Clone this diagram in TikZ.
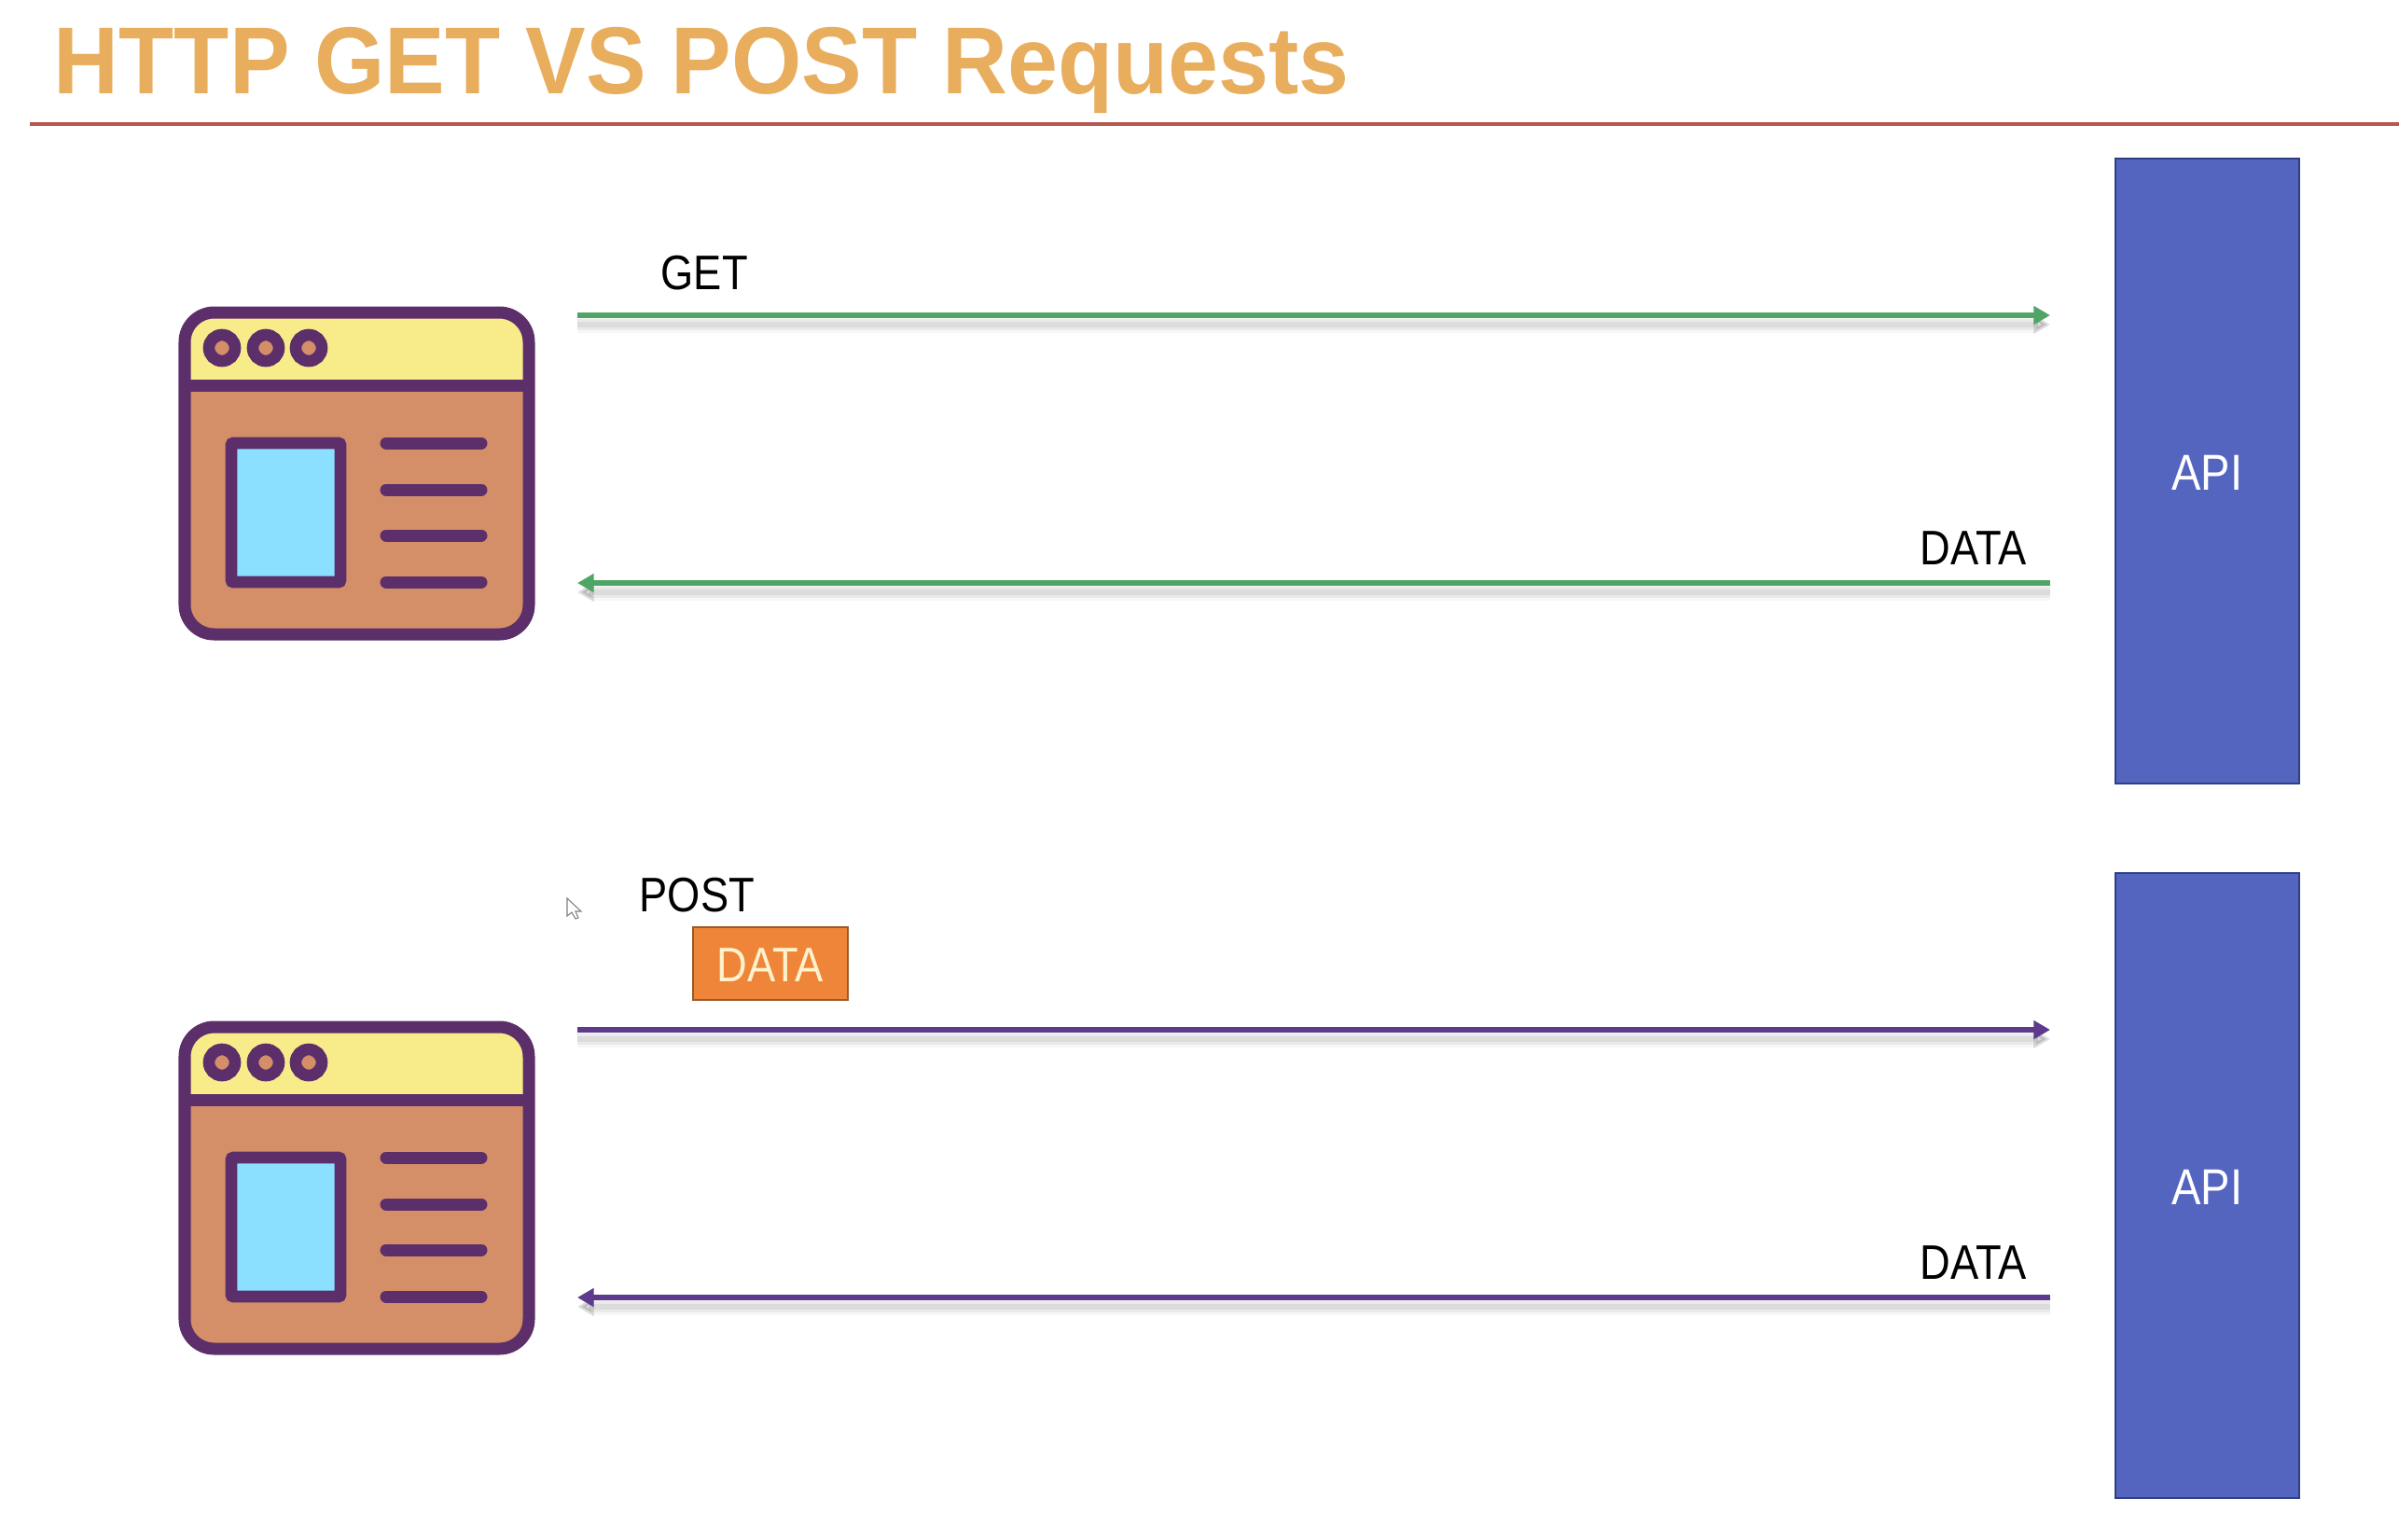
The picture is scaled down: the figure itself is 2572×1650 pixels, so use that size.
\documentclass[tikz,border=0pt]{standalone}
\usepackage{fontspec}
\setmainfont[FakeStretch=0.87]{Liberation Sans}
\newfontfamily\titlefont[FakeStretch=0.95]{Liberation Sans}
\usepackage{xcolor}
\usetikzlibrary{arrows.meta}
\definecolor{webline}{HTML}{5C2F6B}
\definecolor{webhead}{HTML}{F8EB8A}
\definecolor{webbody}{HTML}{D58F68}
\definecolor{webpane}{HTML}{8CE0FF}
\definecolor{apifill}{HTML}{5465C0}
\definecolor{apiline}{HTML}{2F3F86}
\definecolor{getcol}{HTML}{4FA566}
\definecolor{postcol}{HTML}{5E3A8C}
\definecolor{titlecol}{HTML}{E8AE5E}
\definecolor{rulecol}{HTML}{B5574F}
\definecolor{boxfill}{HTML}{EE8538}
\definecolor{boxline}{HTML}{9A5A2C}
\definecolor{boxtext}{HTML}{FFF2CC}
\tikzset{
	lbl/.style={font=\fontsize{14.8}{18}\selectfont,anchor=base west,inner sep=0pt},
	apibox/.style={draw=apiline,fill=apifill,line width=0.5pt,minimum width=56.2pt,minimum height=190.7pt,inner sep=0pt,text=white,text height=11.8pt,text depth=0pt,font=\fontsize{15.4}{18}\selectfont},
	msg/.style={line width=1.5pt,-{Triangle[length=5pt,width=5.4pt]},
		preaction={draw=black,opacity=.03,line width=5pt,transform canvas={yshift=-2.8pt}},
		preaction={draw=black,opacity=.05,line width=3.4pt,transform canvas={yshift=-2.8pt}},
		preaction={draw=black,opacity=.06,line width=1.8pt,transform canvas={yshift=-2.8pt}}},
	browser/.pic={
		\fill[webbody,rounded corners=9pt] (198,335) rectangle (567,680);
		\begin{scope}
			\clip (190,320) rectangle (575,413);
			\fill[webhead,rounded corners=9pt] (198,335) rectangle (567,680);
		\end{scope}
		\draw[webline,line width=3.7pt,rounded corners=9pt] (198,335) rectangle (567,680);
		\draw[webline,line width=3.7pt] (198,413) -- (567,413);
		% window buttons
		\foreach \x in {238,285,331}
			\draw[webline,fill=webbody,line width=3.6pt] (\x,373) circle (14);
		% picture pane
		\draw[webline,fill=webpane,line width=3.6pt,rounded corners=0.6pt] (248,475) rectangle (365,624);
		% text lines
		\foreach \y in {475,525,574,624}
			\draw[webline,line width=3.7pt,line cap=round] (414,\y) -- (516,\y);
	}
}
\begin{document}
\begin{tikzpicture}[x=0.01cm,y=-0.01cm]
	\useasboundingbox[fill=white] (0,0) rectangle (2572,1650);
	%
	\node[anchor=base west,inner sep=0pt,text=titlecol,font=\titlefont\fontsize{29}{36}\selectfont\bfseries] (Title) at (57,100) {HTTP GET VS POST Requests};
	\coordinate (RuleA) at (32,133);
	\coordinate (RuleB) at (2572,133);
	\draw[rulecol,line width=0.9pt] (RuleA) -- (RuleB);
	%
	\pic at (0,0) {browser};
	\pic at (0,766) {browser};
	%
	\node[apibox] (ApiA) at (2366.5,505) {API};
	\node[apibox] (ApiB) at (2366.5,1271) {API};
	%
	\coordinate (GetA) at (619,338);
	\coordinate (GetB) at (2198,338);
	\coordinate (BackA) at (2198,625);
	\coordinate (BackB) at (619,625);
	\coordinate (PostA) at (619,1104);
	\coordinate (PostB) at (2198,1104);
	\coordinate (ReplyA) at (2198,1391);
	\coordinate (ReplyB) at (619,1391);
	%
	\path[font=\scriptsize]
	% green arrows
	(GetA) edge[msg,getcol] (GetB)
	(BackA) edge[msg,getcol] (BackB)
	% purple arrows
	(PostA) edge[msg,postcol] (PostB)
	(ReplyA) edge[msg,postcol] (ReplyB);
	%
	\node[lbl] (GetLbl) at (708,310) {GET};
	\node[lbl] (DataLblA) at (2058,605) {DATA};
	\node[lbl] (PostLbl) at (685,977) {POST};
	\node[lbl] (DataLblB) at (2058,1371) {DATA};
	\node[draw=boxline,fill=boxfill,text=boxtext,line width=0.6pt,minimum width=47pt,minimum height=22pt,inner sep=0pt,text height=11pt,text depth=0pt,font=\fontsize{14.8}{18}\selectfont] (DataBox) at (826,1033) {DATA};
	%
	\draw[gray,fill=white,line width=0.3pt] (608,963) -- (608,982) -- (613,978) -- (617,985) -- (620,984) -- (617,977) -- (623,977) -- cycle;
\end{tikzpicture}
\end{document}
